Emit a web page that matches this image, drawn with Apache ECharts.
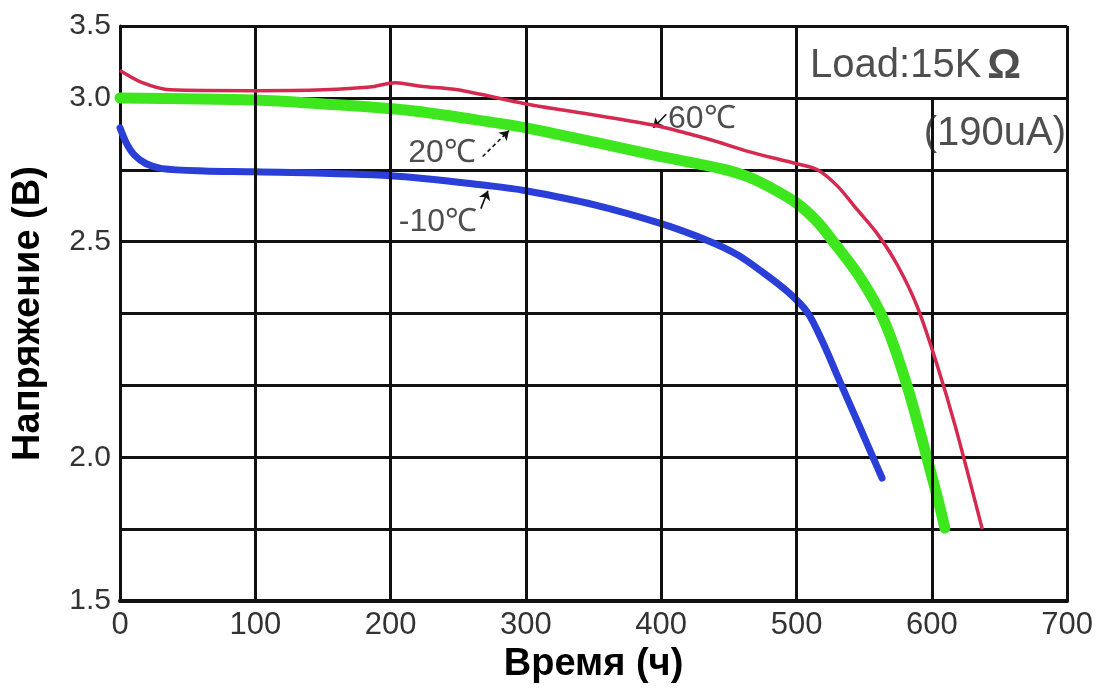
<!DOCTYPE html>
<html>
<head>
<meta charset="utf-8">
<script src="https://cdn.jsdelivr.net/npm/echarts@6/dist/echarts.min.js"></script>
<style>
html,body{margin:0;padding:0;background:#fff;}
#chart{width:1096px;height:689px;}
</style>
</head>
<body>
<div id="chart"></div>
<script>
// ---- data (time in hours, voltage in V) ----
const xTicks = [0, 100, 200, 300, 400, 500, 600, 700];
const yTickVolts = [1.5, 2.0, 2.5, 3.0, 3.5];
const yTickGridIndex = [0, 2, 5, 7, 8]; // grid row where each label sits (non-uniform scale)

const redTime = [0, 15.5, 37.2, 100, 150.4, 184.7, 203.7, 222.2, 249.6, 300, 347, 395.7, 434.6, 464, 500, 515.4, 530.1, 544.9, 559.6, 574.3, 589, 603.5, 617.5, 637.3];
const redVolt = [3.19, 3.11, 3.056, 3.05, 3.056, 3.075, 3.106, 3.081, 3.056, 2.979, 2.943, 2.904, 2.857, 2.814, 2.771, 2.75, 2.694, 2.611, 2.528, 2.447, 2.351, 2.218, 2.070, 1.75];

const greenTime = [0, 100, 150.4, 212.6, 255.6, 300, 350.7, 400, 444.1, 463.9, 482.4, 500.7, 515.4, 527.9, 547, 564.7, 581.6, 596.3, 605.9, 609.6];
const greenVolt = [3.0, 2.993, 2.979, 2.957, 2.929, 2.896, 2.846, 2.796, 2.754, 2.726, 2.684, 2.632, 2.569, 2.497, 2.417, 2.317, 2.167, 2.0, 1.828, 1.754];

const blueTime = [0, 4.7, 10.9, 19.4, 31, 62, 100, 200, 274, 300, 350.7, 400, 434.6, 456.6, 475, 493.4, 508.1, 519.1, 532.4, 547.1, 557.4, 563.2];
const blueVolt = [2.896, 2.843, 2.8, 2.771, 2.754, 2.746, 2.743, 2.729, 2.694, 2.677, 2.628, 2.5625, 2.503, 2.469, 2.429, 2.384, 2.336, 2.269, 2.173, 2.068, 1.99, 1.928];

const seriesNames = ['60℃', '20℃', '-10℃'];

// annotation texts: [time, volt, text]
const labelTexts = [
  [405, 2.925, '60℃'],
  [213, 2.807, '20℃'],
  [206, 2.569, '-10℃'],
  [594, 2.875, '(190uA)']
];
const loadLabel = [510, 3.219];
// arrows: [tailTime, tailVolt, tipTime, tipVolt, dashed]
const arrows = [
  [403.7, 2.943, 394.2, 2.896, false],
  [268, 2.796, 287.4, 2.886, true],
  [266.7, 2.615, 271.9, 2.677, false]
];

// ---- non-uniform voltage scale: voltage -> grid row ----
function toAxis(v) {
  for (let i = 0; i < yTickVolts.length - 1; i++) {
    const a = yTickVolts[i], b = yTickVolts[i + 1];
    if (v <= b || i === yTickVolts.length - 2) {
      return yTickGridIndex[i] + (v - a) / (b - a) * (yTickGridIndex[i + 1] - yTickGridIndex[i]);
    }
  }
}
const pairs = (t, v) => t.map((x, i) => [x, toAxis(v[i])]);

const labelMap = {};
yTickGridIndex.forEach((k, i) => { labelMap[k] = yTickVolts[i].toFixed(1); });

// vertical grid segments (the reference has gaps behind two labels)
const vSeg = [];
xTicks.slice(1).forEach(t => {
  let ranges = [[0, 8]];
  if (t === 400) ranges = [[0, 6], [7, 8]];
  if (t === 600) ranges = [[0, 7]];
  ranges.forEach(r => vSeg.push([{coord: [t, r[0]]}, {coord: [t, r[1]]}]));
});

const arrowData = arrows.map(a => [
  {coord: [a[0], toAxis(a[1])], lineStyle: {type: a[4] ? [4, 3] : 'solid'}},
  {coord: [a[2], toAxis(a[3])]}
]);

const FONT = "'Liberation Sans', Arial, sans-serif";

const textData = labelTexts.map(l => ({
  value: [l[0], toAxis(l[1])],
  label: {formatter: l[2], fontSize: l[2].startsWith('(') ? 40 : 32}
}));
textData.push({
  value: [loadLabel[0], toAxis(loadLabel[1])],
  label: {formatter: '{a|Load:15K}{b|Ω}', rich: {
    a: {fontSize: 40, fontFamily: FONT, color: '#222'},
    b: {fontSize: 42, fontFamily: FONT, fontWeight: 'bold', color: '#222', padding: [0, 0, 0, 6]}
  }}
});

const chart = echarts.init(document.getElementById('chart'), null, {renderer: 'canvas'});
chart.setOption({
  animation: false,
  backgroundColor: '#fff',
  grid: {left: 120, right: 28, top: 26, bottom: 86, containLabel: false},
  xAxis: {
    type: 'value', min: 0, max: 700, interval: 100,
    axisLine: {show: true, lineStyle: {color: '#111', width: 4}},
    axisTick: {show: false},
    splitLine: {show: false},
    axisLabel: {fontSize: 31, color: '#333', margin: 9, fontFamily: FONT},
    name: 'Время (ч)', nameLocation: 'middle', nameGap: 42,
    nameTextStyle: {fontSize: 38, fontWeight: 'bold', color: '#000', fontFamily: FONT}
  },
  yAxis: {
    type: 'value', min: 0, max: 8, interval: 1,
    axisLine: {show: true, lineStyle: {color: '#111', width: 3}},
    axisTick: {show: false},
    splitLine: {show: true, lineStyle: {color: '#111', width: 3}},
    axisLabel: {fontSize: 30, color: '#333', margin: 9, fontFamily: FONT,
      formatter: v => labelMap[v] !== undefined ? labelMap[v] : ''},
    name: 'Напряжение (В)', nameLocation: 'middle', nameGap: 72,
    nameTextStyle: {fontSize: 38, fontWeight: 'bold', color: '#000', fontFamily: FONT}
  },
  series: [
    {
      type: 'line', data: [], z: 1, silent: true,
      markLine: {silent: true, symbol: ['none', 'none'], label: {show: false},
        lineStyle: {color: '#111', width: 3, type: 'solid'}, data: vSeg}
    },
    {
      name: seriesNames[0], type: 'line', data: pairs(redTime, redVolt), z: 5,
      smooth: 0.3, showSymbol: false, lineStyle: {color: '#d42a50', width: 3.5}
    },
    {
      name: seriesNames[1], type: 'line', data: pairs(greenTime, greenVolt), z: 4,
      smooth: 0.3, showSymbol: false, lineStyle: {color: '#3ee61e', width: 11, cap: 'round'}
    },
    {
      name: seriesNames[2], type: 'line', data: pairs(blueTime, blueVolt), z: 4,
      smooth: 0.3, showSymbol: false, lineStyle: {color: '#2a3ed8', width: 7, cap: 'round'}
    },
    {
      type: 'line', data: [], z: 6, silent: true,
      markLine: {silent: true, symbol: ['none', 'arrow'], symbolSize: 9, label: {show: false},
        lineStyle: {color: '#111', width: 1.6}, data: arrowData}
    },
    {
      type: 'scatter', symbolSize: 0, z: 7, silent: true,
      label: {show: true, position: 'right', distance: 0, color: '#222', fontFamily: FONT},
      data: textData
    }
  ]
});
</script>
</body>
</html>
